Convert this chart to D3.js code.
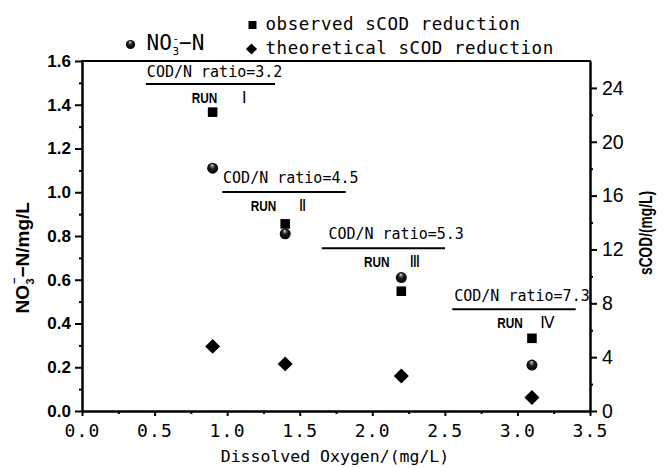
<!DOCTYPE html>
<html>
<head>
<meta charset="utf-8">
<script src="https://cdn.jsdelivr.net/npm/d3@7"></script>
<style>
  html, body { margin: 0; padding: 0; background: #fff; }
  svg { display: block; }
</style>
</head>
<body>
<svg id="chart" width="666" height="468"></svg>
<script>
// ---- data ----
const dissolvedOxygen = [0.9, 1.4, 2.2, 3.1];
const nitrateN = [1.11, 0.81, 0.61, 0.21];
const observedSCOD = [22.2, 13.9, 8.9, 5.4];
const theoreticalSCOD = [4.8, 3.5, 2.6, 1.0];
const codNRatios = [3.2, 4.5, 5.3, 7.3];
const runNumerals = ["Ⅰ", "Ⅱ", "Ⅲ", "Ⅳ"];
const xTickValues = [0, 0.5, 1, 1.5, 2, 2.5, 3, 3.5];
const leftTickValues = [0, 0.2, 0.4, 0.6, 0.8, 1.0, 1.2, 1.4, 1.6];
const rightTickValues = [0, 4, 8, 12, 16, 20, 24];
const legendLabels = ["observed sCOD reduction", "theoretical sCOD reduction"];

// ---- layout ----
const plot = { left: 82, right: 590, top: 61, bottom: 411 };
const x = d3.scaleLinear().domain([0, 3.5]).range([plot.left, plot.right]);
const yN = d3.scaleLinear().domain([0, 1.6]).range([plot.bottom, plot.top]);
const yC = d3.scaleLinear().domain([0, 26]).range([plot.bottom, plot.top]);

// rule under each ratio label: span in DO units, height in nitrate units,
// plus pixel offsets of the texts from the rule's left end
const runBrackets = [
  { from: 0.440, to: 1.330, level: 1.495, textDx: 1.0, textDy: -7.3, runDx: 46.0, numCx: 98.5 },
  { from: 0.967, to: 1.817, level: 1.001, textDx: 0.7, textDy: -8.7, runDx: 28.4, numCx: 80.2 },
  { from: 1.652, to: 2.501, level: 0.744, textDx: 6.6, textDy: -9.0, runDx: 42.3, numCx: 93.1 },
  { from: 2.551, to: 3.401, level: 0.465, textDx: 2.0, textDy: -8.6, runDx: 45.0, numCx: 95.2 }
];

const MONO = "'DejaVu Sans Mono', 'Liberation Mono', monospace";
const SANS = "'Liberation Sans', Arial, sans-serif";
const NARROW = "'Liberation Sans Narrow', 'Liberation Sans', Arial, sans-serif";

const svg = d3.select("#chart");

// shaded ball marker
const defs = svg.append("defs");
const grad = defs.append("radialGradient")
  .attr("id", "ball").attr("cx", "50%").attr("cy", "50%").attr("r", "55%")
  .attr("fx", "45%").attr("fy", "20%");
grad.append("stop").attr("offset", "0%").attr("stop-color", "#f0f0f0");
grad.append("stop").attr("offset", "16%").attr("stop-color", "#8a8a8a");
grad.append("stop").attr("offset", "45%").attr("stop-color", "#1c1c1c");
grad.append("stop").attr("offset", "100%").attr("stop-color", "#000");

// ---- axes ----
function styleAxis(g) {
  g.select(".domain").attr("stroke", "#000").attr("stroke-width", 2);
  g.selectAll(".tick line").attr("stroke", "#000").attr("stroke-width", 2);
}

const minorX = d3.range(0.25, 3.5, 0.5);
const minorL = d3.range(0.1, 1.6, 0.2);
const minorR = d3.range(2, 26, 4);

// minor ticks
svg.append("g").attr("transform", `translate(0,${plot.bottom})`)
  .call(d3.axisBottom(x).tickValues(minorX).tickSize(3).tickFormat("").tickSizeOuter(0))
  .call(styleAxis);
svg.append("g").attr("transform", `translate(${plot.left},0)`)
  .call(d3.axisLeft(yN).tickValues(minorL).tickSize(3).tickFormat("").tickSizeOuter(0))
  .call(styleAxis);
svg.append("g").attr("transform", `translate(${plot.right},0)`)
  .call(d3.axisRight(yC).tickValues(minorR).tickSize(3).tickFormat("").tickSizeOuter(0))
  .call(styleAxis);

// bottom axis
const gx = svg.append("g").attr("transform", `translate(0,${plot.bottom})`)
  .call(d3.axisBottom(x).tickValues(xTickValues).tickSize(5).tickPadding(8)
    .tickFormat(d3.format(".1f")).tickSizeOuter(0))
  .call(styleAxis);
gx.selectAll(".tick text")
  .attr("font-family", MONO).attr("font-size", 18).attr("letter-spacing", 1.2)
  .attr("fill", "#000");

// left axis
const gl = svg.append("g").attr("transform", `translate(${plot.left},0)`)
  .call(d3.axisLeft(yN).tickValues(leftTickValues).tickSize(7).tickPadding(4)
    .tickFormat(d3.format(".1f")).tickSizeOuter(0))
  .call(styleAxis);
gl.selectAll(".tick text")
  .attr("font-family", SANS).attr("font-weight", "bold").attr("font-size", 17)
  .attr("fill", "#000");

// right axis
const gr = svg.append("g").attr("transform", `translate(${plot.right},0)`)
  .call(d3.axisRight(yC).tickValues(rightTickValues).tickSize(7).tickPadding(5)
    .tickFormat(d3.format("d")).tickSizeOuter(0))
  .call(styleAxis);
gr.selectAll(".tick text")
  .attr("font-family", SANS).attr("font-size", 19.5)
  .attr("fill", "#000");

// top frame line
svg.append("line")
  .attr("x1", plot.left - 1).attr("x2", plot.right + 1)
  .attr("y1", plot.top).attr("y2", plot.top)
  .attr("stroke", "#000").attr("stroke-width", 2);

// ---- axis titles ----
svg.append("text")
  .attr("x", (plot.left + plot.right) / 2 - 1).attr("y", 462)
  .attr("text-anchor", "middle")
  .attr("font-family", MONO).attr("font-size", 16.5)
  .text("Dissolved Oxygen/(mg/L)");

const yTitle = svg.append("text")
  .attr("transform", "translate(29,313.5) rotate(-90)")
  .attr("font-family", SANS).attr("font-weight", "bold").attr("font-size", 19);
yTitle.append("tspan").attr("x", 0).attr("y", 0).text("NO");
yTitle.append("tspan").attr("x", 29).attr("y", 5).attr("font-size", 11).text("3");
yTitle.append("tspan").attr("x", 29.5).attr("y", -11).attr("font-size", 11).text("−");
yTitle.append("tspan").attr("x", 36).attr("y", 0).text("−N/mg/L");

svg.append("text")
  .attr("transform", `translate(652,${233}) rotate(-90)`)
  .attr("text-anchor", "middle")
  .attr("font-family", NARROW).attr("font-weight", "bold").attr("font-size", 17.5)
  .attr("textLength", 84).attr("lengthAdjust", "spacingAndGlyphs")
  .text("sCOD/(mg/L)");

// ---- run annotations ----
const ann = svg.append("g").attr("class", "runs");
runBrackets.forEach((b, i) => {
  const x0 = x(b.from), x1 = x(b.to), yy = yN(b.level);
  ann.append("line")
    .attr("x1", x0).attr("x2", x1).attr("y1", yy).attr("y2", yy)
    .attr("stroke", "#000").attr("stroke-width", 2);
  ann.append("text")
    .attr("x", x0 + b.textDx).attr("y", yy + b.textDy)
    .attr("font-family", MONO).attr("font-size", 15)
    .text(`COD/N ratio=${codNRatios[i]}`);
  ann.append("text")
    .attr("x", x0 + b.runDx).attr("y", yy + 19)
    .attr("font-family", NARROW).attr("font-weight", "bold").attr("font-size", 15)
    .attr("textLength", 25.5).attr("lengthAdjust", "spacingAndGlyphs")
    .text("RUN");
  ann.append("text")
    .attr("x", x0 + b.numCx).attr("y", yy + 19)
    .attr("text-anchor", "middle")
    .attr("font-family", "'DejaVu Sans', 'Noto Sans CJK SC', sans-serif")
    .attr("font-size", 15.5)
    .text(runNumerals[i]);
});

// ---- markers ----
const marks = svg.append("g").attr("class", "marks");
const pointsN = dissolvedOxygen.map((d, i) => ({ x: d, v: nitrateN[i] }));
const pointsObs = dissolvedOxygen.map((d, i) => ({ x: d, v: observedSCOD[i] }));
const pointsTheo = dissolvedOxygen.map((d, i) => ({ x: d, v: theoreticalSCOD[i] }));

marks.selectAll("circle.nitrate").data(pointsN).join("circle")
  .attr("class", "nitrate")
  .attr("cx", d => x(d.x)).attr("cy", d => yN(d.v)).attr("r", 5.5)
  .attr("fill", "url(#ball)");

marks.selectAll("path.observed").data(pointsObs).join("path")
  .attr("class", "observed")
  .attr("transform", d => `translate(${x(d.x)},${yC(d.v)})`)
  .attr("d", d3.symbol(d3.symbolSquare, 92)())
  .attr("fill", "#000");

marks.selectAll("path.theoretical").data(pointsTheo).join("path")
  .attr("class", "theoretical")
  .attr("transform", d => `translate(${x(d.x)},${yC(d.v)}) rotate(45)`)
  .attr("d", d3.symbol(d3.symbolSquare, 112)())
  .attr("fill", "#000");

// ---- legend ----
const lg = svg.append("g").attr("class", "legend");
lg.append("circle").attr("cx", 130.5).attr("cy", 44.5).attr("r", 4.6).attr("fill", "url(#ball)");
const nLabel = lg.append("text").attr("font-family", MONO).attr("font-size", 21);
nLabel.append("tspan").attr("x", 146.5).attr("y", 50).text("NO");
nLabel.append("tspan").attr("x", 172.5).attr("y", 55).attr("font-size", 11).text("3");
nLabel.append("tspan").attr("x", 172.5).attr("y", 42).attr("font-size", 11).text("-");
nLabel.append("tspan").attr("x", 179).attr("y", 50).text("−N");

lg.append("path")
  .attr("transform", "translate(252.5,25)")
  .attr("d", d3.symbol(d3.symbolSquare, 64)())
  .attr("fill", "#000");
lg.append("path")
  .attr("transform", "translate(251.5,49) rotate(45)")
  .attr("d", d3.symbol(d3.symbolSquare, 62)())
  .attr("fill", "#000");
lg.selectAll("text.series").data(legendLabels).join("text")
  .attr("class", "series")
  .attr("x", 265.5).attr("y", (d, i) => i === 0 ? 29.5 : 53.5)
  .attr("font-family", MONO).attr("font-size", 17.5).attr("letter-spacing", 0.55)
  .text(d => d);
</script>
</body>
</html>
